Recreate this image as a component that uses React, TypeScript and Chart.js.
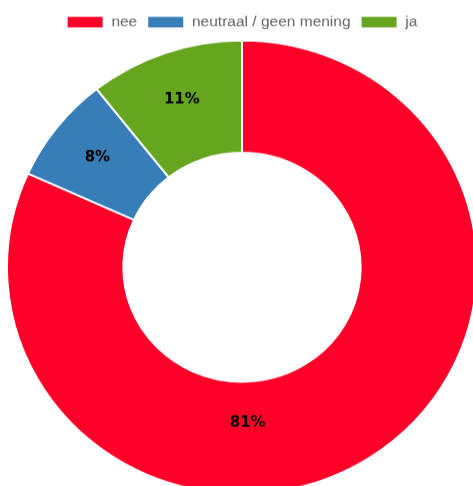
import React, { useEffect, useRef } from "react";
import { Chart, registerables } from "chart.js";

Chart.register(...registerables);

const categories = ["nee", "neutraal / geen mening", "ja"];
const values = [81.7, 7.6, 10.6];
const valueLabels = ["81%", "8%", "11%"];
const colors = ["#ff0029", "#377eb8", "#66a61e"];

const sliceLabelPlugin = {
  id: "sliceLabels",
  afterDatasetsDraw(chart: any, _args: any, opts: any) {
    const ctx = chart.ctx;
    const meta = chart.getDatasetMeta(0);
    ctx.save();
    ctx.font = "bold 15px 'DejaVu Sans', Verdana, sans-serif";
    ctx.fillStyle = "#000";
    ctx.textAlign = "center";
    ctx.textBaseline = "middle";
    meta.data.forEach((el: any, i: number) => {
      const p = el.getProps(["x", "y", "startAngle", "endAngle", "innerRadius", "outerRadius"], true);
      const sweep = p.endAngle - p.startAngle;
      const big = sweep > Math.PI;
      const ang = big ? opts.bigArcAngle : (p.startAngle + p.endAngle) / 2;
      const frac = big ? opts.bigArcRadius : opts.smallArcRadius;
      const r = p.innerRadius + (p.outerRadius - p.innerRadius) * frac;
      ctx.fillText(valueLabels[i], p.x + Math.cos(ang) * r, p.y + Math.sin(ang) * r);
    });
    ctx.restore();
  },
};

export default function App() {
  const ref = useRef<HTMLCanvasElement>(null);
  useEffect(() => {
    const chart = new Chart(ref.current!, {
      type: "doughnut",
      data: {
        labels: categories,
        datasets: [
          {
            data: values,
            backgroundColor: colors,
            borderColor: "#fff",
            borderWidth: 2,
          },
        ],
      },
      options: {
        responsive: false,
        animation: false,
        cutout: "50.5%",
        plugins: {
          legend: {
            position: "top",
            labels: {
              boxWidth: 37,
              boxHeight: 13,
              padding: 10,
              color: "#666",
              font: { size: 15.5, family: "'Liberation Sans', Arial, sans-serif" },
            },
          },
          tooltip: { enabled: false },
          sliceLabels: { bigArcAngle: Math.PI / 2 - 0.035, bigArcRadius: 0.37, smallArcRadius: 0.56 },
        },
      } as any,
      plugins: [sliceLabelPlugin as any],
    });
    return () => chart.destroy();
  }, []);
  return (
    <div
      style={{
        position: "fixed",
        left: 6,
        top: 5,
        transform: "scaleY(0.965)",
        transformOrigin: "0 0",
      }}
    >
      <canvas ref={ref} width={472} height={508} />
    </div>
  );
}
